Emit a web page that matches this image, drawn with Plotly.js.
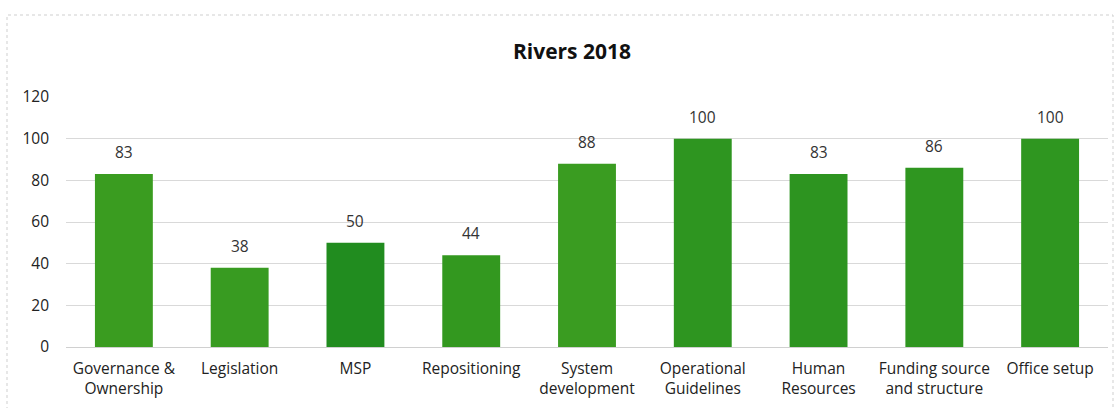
<!DOCTYPE html>
<html>
<head>
<meta charset="utf-8">
<script src="https://cdn.plot.ly/plotly-3.0.1.min.js"></script>
<style>
html,body{margin:0;padding:0;background:#fff;}
#chart{width:1115px;height:408px;}
</style>
</head>
<body>
<div id="chart"></div>
<script>
const categories = ["Governance &<br>Ownership", "Legislation", "MSP", "Repositioning", "System<br>development", "Operational<br>Guidelines", "Human<br>Resources", "Funding source<br>and structure", "Office setup"];
const values = [83, 38, 50, 44, 88, 100, 83, 86, 100];
const yTicks = [0, 20, 40, 60, 80, 100, 120];
const barColors = ["#3a9c20", "#389b21", "#218c1f", "#33981f", "#3a9c21", "#2e9520", "#2d9420", "#2f9620", "#2f9620"];

const font = "Open Sans, Noto Sans, Liberation Sans, sans-serif";

const labelAnnotations = categories.map((c, i) => ({
  x: c, y: values[i], xref: "x", yref: "y",
  text: String(values[i]), showarrow: false,
  yanchor: "bottom", yshift: 9,
  font: {family: font, size: 15.5, color: "#333"}
}));

Plotly.newPlot("chart", [{
  type: "bar",
  x: categories,
  y: values,
  cliponaxis: false,
  marker: {color: barColors, line: {width: 0}},
  hoverinfo: "none"
}], {
  width: 1115,
  height: 408,
  margin: {l: 66, r: 7, t: 97, b: 61},
  paper_bgcolor: "#fff",
  plot_bgcolor: "#fff",
  showlegend: false,
  bargap: 0.5,
  title: {
    text: "<b>Rivers 2018</b>",
    font: {family: font, size: 21, color: "#111"},
    x: 0.513, xanchor: "center",
    y: 1 - 52/408, yanchor: "middle", yref: "container"
  },
  annotations: labelAnnotations,
  xaxis: {
    type: "category",
    tickfont: {family: font, size: 15.5, color: "#222"},
    showline: false,
    ticks: "",
    showgrid: false,
    ticklabelstandoff: 10
  },
  yaxis: {
    range: [0, 120],
    tickvals: yTicks,
    ticktext: yTicks.map(String),
    tickfont: {family: font, size: 15.5, color: "#222"},
    showgrid: true,
    gridcolor: "#d9d9d9",
    gridwidth: 1,
    zeroline: true,
    zerolinecolor: "#d0d0d0",
    showline: false,
    ticks: "",
    ticklabelstandoff: 16
  },
  shapes: [{
    type: "rect", xref: "paper", yref: "paper",
    x0: -59/1042, x1: 1 + 5/1042, y0: -1, y1: 1 + 82/250,
    line: {color: "#cfcfcf", width: 1, dash: "dot"}, fillcolor: "rgba(0,0,0,0)"
  }]
}, {staticPlot: true});
</script>
</body>
</html>
